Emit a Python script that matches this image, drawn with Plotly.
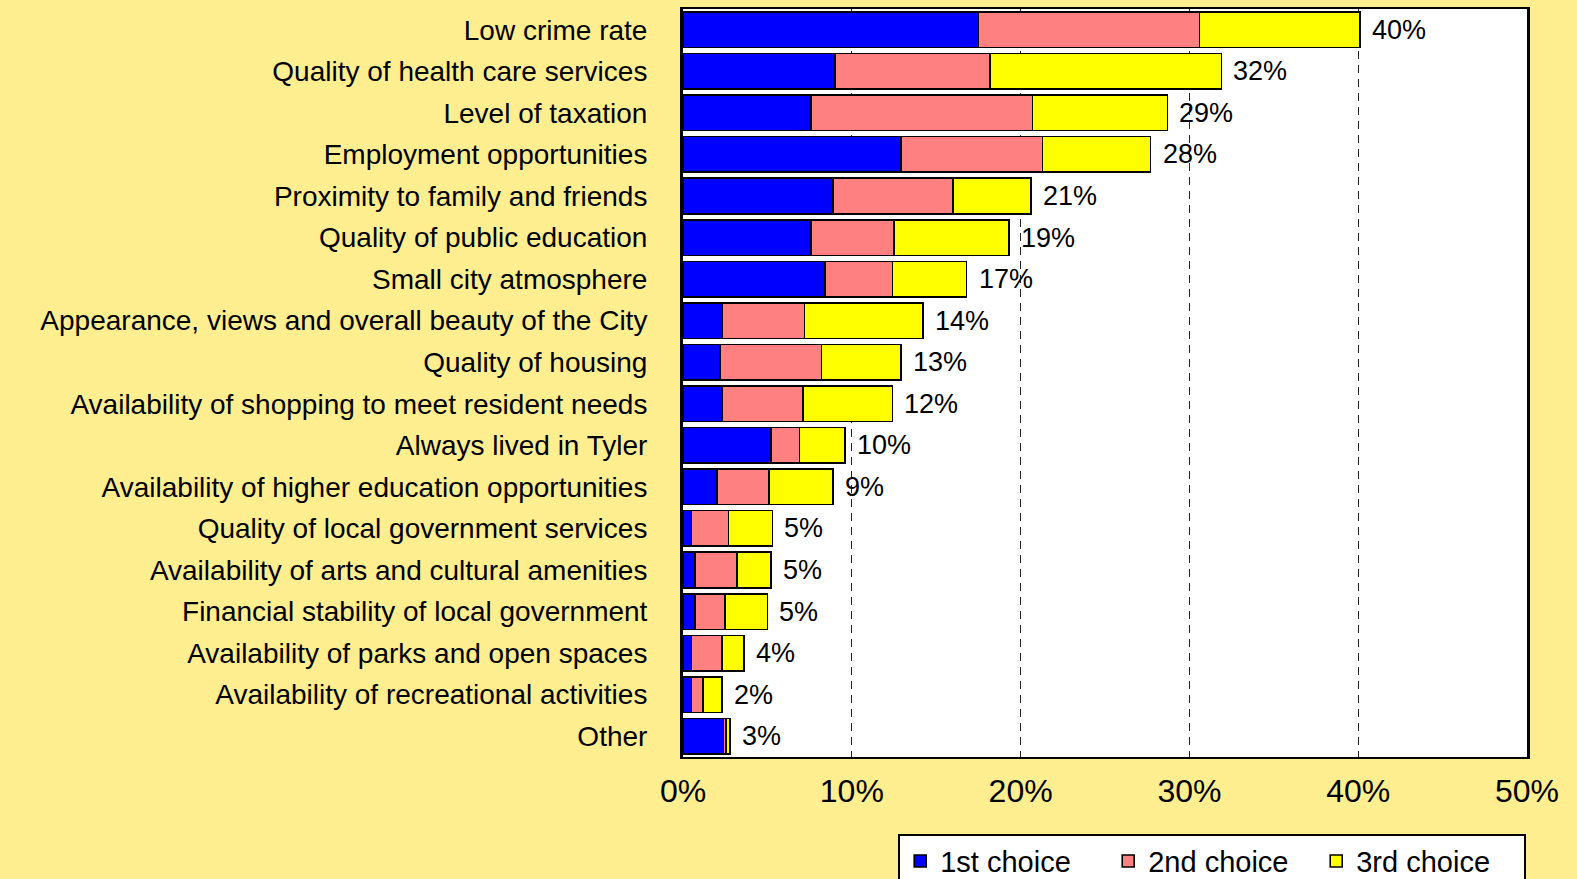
import plotly.graph_objects as go

# Reasons for living in Tyler: share of respondents naming each as 1st/2nd/3rd choice (percent)
categories = [
    "Low crime rate",
    "Quality of health care services",
    "Level of taxation",
    "Employment opportunities",
    "Proximity to family and friends",
    "Quality of public education",
    "Small city atmosphere",
    "Appearance, views and overall beauty of the City",
    "Quality of housing",
    "Availability of shopping to meet resident needs",
    "Always lived in Tyler",
    "Availability of higher education opportunities",
    "Quality of local government services",
    "Availability of arts and cultural amenities",
    "Financial stability of local government",
    "Availability of parks and open spaces",
    "Availability of recreational activities",
    "Other",
]
first_choice = [17.5, 9.0, 7.6, 12.9, 8.9, 7.6, 8.4, 2.3, 2.2, 2.3, 5.2, 2.0, 0.5, 0.7, 0.7, 0.5, 0.5, 2.4]
second_choice = [13.1, 9.2, 13.1, 8.4, 7.1, 4.9, 4.0, 4.9, 6.0, 4.8, 1.7, 3.1, 2.2, 2.5, 1.8, 1.8, 0.7, 0.15]
third_choice = [9.5, 13.7, 8.0, 6.4, 4.6, 6.8, 4.4, 7.0, 4.7, 5.3, 2.7, 3.8, 2.6, 2.0, 2.5, 1.3, 1.1, 0.25]
series_names = ["1st choice", "2nd choice", "3rd choice"]
x_ticks = [0, 10, 20, 30, 40, 50]

totals = [a + b + c for a, b, c in zip(first_choice, second_choice, third_choice)]
total_labels = [f"{t:.0f}%" for t in totals]

FONT = "Arial, Liberation Sans, sans-serif"
BG = "#FFEE90"
colors = ["#0000FF", "#FF8080", "#FFFF00"]

fig = go.Figure()
for name, vals, col in zip(series_names, [first_choice, second_choice, third_choice], colors):
    fig.add_trace(go.Bar(
        y=categories,
        x=vals,
        name=name,
        orientation="h",
        marker=dict(color=col, line=dict(color="black", width=1.6)),
        hoverinfo="skip",
    ))

# total labels to the right of each stacked bar
for cat, tot, lab in zip(categories, totals, total_labels):
    fig.add_annotation(
        x=tot, y=cat, text=lab, showarrow=False,
        xanchor="left", yanchor="middle", xshift=10,
        font=dict(family=FONT, size=27, color="black"),
    )

fig.update_layout(
    width=1577,
    height=879,
    barmode="stack",
    bargap=0.145,
    paper_bgcolor=BG,
    plot_bgcolor="white",
    margin=dict(l=683, r=50, t=9, b=122, autoexpand=False),
    font=dict(family=FONT, color="black"),
    showlegend=True,
    legend=dict(
        orientation="h",
        x=0.255, xanchor="left",
        y=-0.1025, yanchor="top",
        bgcolor="white",
        bordercolor="black",
        borderwidth=2,
        font=dict(family=FONT, size=29, color="black"),
        traceorder="normal",
        entrywidth=163,
    ),
)

fig.update_xaxes(
    range=[0, 50],
    tickvals=x_ticks,
    ticktext=[f"{v}%" for v in x_ticks],
    tickfont=dict(family=FONT, size=32, color="black"),
    showgrid=True,
    gridcolor="#222222",
    gridwidth=1,
    griddash="8px,6px",
    zeroline=False,
    showline=True,
    linecolor="black",
    linewidth=2,
    mirror=True,
    ticks="",
    ticklabelstandoff=5,
)
fig.update_yaxes(
    autorange="reversed",
    tickfont=dict(family=FONT, size=28, color="black"),
    showgrid=False,
    showline=True,
    linecolor="black",
    linewidth=3,
    mirror=True,
    ticks="",
    ticklabelstandoff=27,
)

fig.write_html("out.html")
